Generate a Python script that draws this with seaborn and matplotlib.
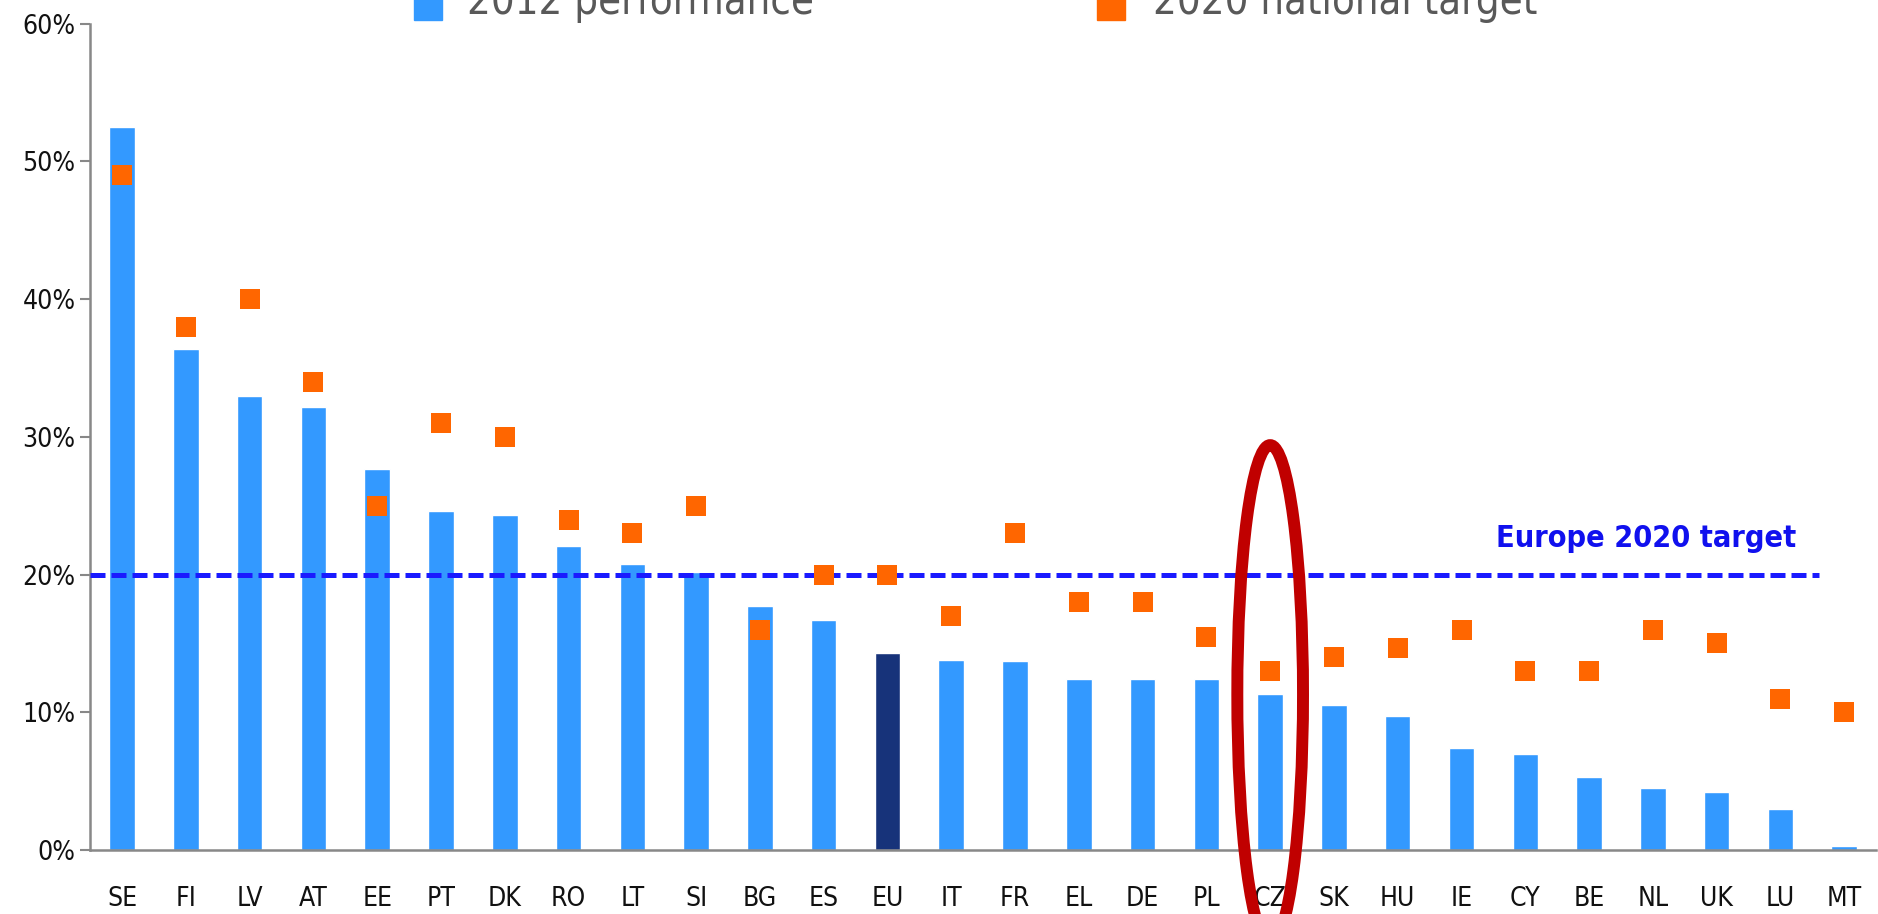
import numpy as np
import pandas as pd
import matplotlib.pyplot as plt
import seaborn as sns
from matplotlib.patches import Ellipse
from matplotlib.ticker import FixedLocator, FuncFormatter

#--------------------------------------------------------
countries=['SE','FI','LV','AT','EE','PT','DK','RO','LT','SI','BG','ES','EU','IT',
	'FR','EL','DE','PL','CZ','SK','HU','IE','CY','BE','NL','UK','LU','MT']
perf_2012=[52.5,36.4,33.0,32.2,27.7,24.6,24.3,22.1,20.8,20.2,17.7,16.7,14.3,13.8,
	13.7,12.4,12.4,12.4,11.3,10.5,9.7,7.4,7.0,5.3,4.5,4.2,3.0,0.3]
target_2020=[49,38,40,34,25,31,30,24,23,25,16,20,20,17,
	23,18,18,15.5,13,14,14.65,16,13,13,16,15,11,10]
eu_target=20

c_bar='#3399ff'
c_eu='#17337a'
c_tgt='#ff6600'

#--------------------------------------------------------
df=pd.DataFrame({'country':countries, 'perf':perf_2012, 'target':target_2020})
pal={c:(c_eu if c=='EU' else c_bar) for c in countries}

sns.set_style('white')
plt.rcParams['font.family']=['DejaVu Sans']
plt.rcParams['font.stretch']='condensed'

fig=plt.figure(figsize=(18.78,9.14), dpi=100)
ax=fig.add_axes([0.048, 0.07, 0.951, 0.904])

sns.barplot(data=df, x='country', y='perf', hue='country', palette=pal,
	legend=False, width=0.4, saturation=1, ax=ax)
sns.stripplot(data=df, x='country', y='target', color=c_tgt, marker='s', size=15,
	jitter=False, linewidth=0, ax=ax, zorder=4)

#europe 2020 target line
ax.hlines(eu_target, -0.5, 26.6, colors='#1a1aff', linestyles=(0,(3,1.2)), lw=3.6, zorder=3)
ax.text(23.9, 22.6, 'Europe 2020 target', color='#1010ee', fontsize=22,
	weight='bold', ha='center', va='center')

#red ellipse around CZ
ell=Ellipse((18, 11.3), width=1.03, height=36.2, fill=False, ec='#c00000', lw=8.6,
	clip_on=False, zorder=6)
ax.add_patch(ell)

#axes
ax.set_xlim(-0.5, len(countries)-0.5)
ax.set_ylim(0, 60)
ax.set_yticks(np.arange(0, 61, 10))
ax.yaxis.set_major_formatter(FuncFormatter(lambda v, p: f'{int(v)}%'))
ax.xaxis.set_minor_locator(FixedLocator(np.arange(-0.5, len(countries), 1)))
ax.tick_params(axis='x', which='major', length=0, pad=26, labelsize=19, colors='#111111')
ax.tick_params(axis='x', which='minor', length=12, width=1.5, color='#888888', direction='out')
ax.tick_params(axis='y', which='major', length=7, width=1.5, color='#888888', direction='out',
	labelsize=19, labelcolor='#111111', left=True)
ax.set_xlabel('')
ax.set_ylabel('')
for s in ['top','right']:
	ax.spines[s].set_visible(False)
for s in ['left','bottom']:
	ax.spines[s].set_color('#888888')
	ax.spines[s].set_linewidth(1.8)

#legend (top edge cut off, as in the source)
ax.plot([428/1878], [1-6/914], marker='s', ms=20, color=c_bar, transform=fig.transFigure, clip_on=False)
ax.plot([1111/1878], [1-6/914], marker='s', ms=20, color=c_tgt, transform=fig.transFigure, clip_on=False)
fig.text(467/1878, 1-14/914, '2012 performance', fontsize=30, color='#595959', va='baseline')
fig.text(1153/1878, 1-14/914, '2020 national target', fontsize=30, color='#595959', va='baseline')

plt.savefig('out.png', dpi=100)
plt.close()
